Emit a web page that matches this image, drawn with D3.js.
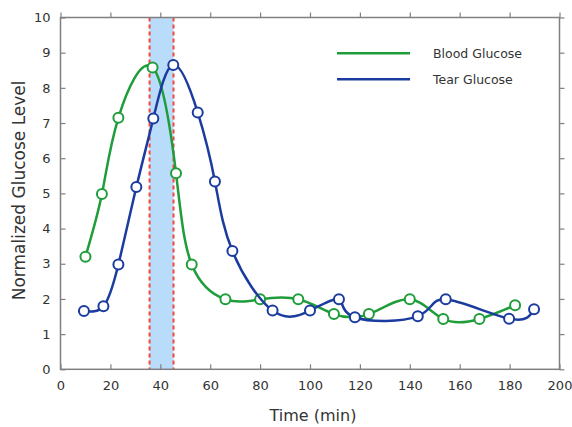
<!DOCTYPE html>
<html lang='en'>
<head>
    <meta charset='UTF-8'>
    <title>Glucose</title>
    <style>
        body { margin: 0; background: #fff; }
        text { font-family: 'DejaVu Sans', sans-serif; fill: #333; }
        .frame { fill: none; stroke: #808080; stroke-width: 1.5px; }
        .tick line { stroke: #808080; stroke-width: 1.2px; }
    </style>
</head>
<body>
    <svg id="chart" width="572" height="427"></svg>
    <script src='https://d3js.org/d3.v7.min.js'></script>
    <script>
        // blood glucose samples (time, level)
        const bloodTime = [10, 16.6, 23.2, 36.9, 46.3, 52.6, 66.1, 80, 95.3, 109.6, 123.6, 140, 153.4, 167.9, 182.2]
        const bloodLevel = [3.2, 4.98, 7.15, 8.58, 5.57, 2.98, 1.99, 1.99, 1.99, 1.57, 1.57, 1.99, 1.43, 1.43, 1.82]
        // tear glucose samples
        const tearTime = [9.4, 17.2, 23.2, 30.4, 37.2, 45.2, 55, 61.9, 68.9, 85, 100, 111.6, 118, 143.2, 154.4, 179.8, 189.8]
        const tearLevel = [1.66, 1.79, 2.98, 5.18, 7.13, 8.65, 7.3, 5.34, 3.36, 1.67, 1.67, 1.99, 1.48, 1.51, 1.99, 1.44, 1.71]
        const band = [35.7, 45.3]
        const xTicks = [0, 20, 40, 60, 80, 100, 120, 140, 160, 180, 200]
        const yTicks = [0, 1, 2, 3, 4, 5, 6, 7, 8, 9, 10]

        const series = [
            { name: 'Blood Glucose', color: '#1f9d3a', t: bloodTime, v: bloodLevel },
            { name: 'Tear Glucose', color: '#1b3c9e', t: tearTime, v: tearLevel }
        ]

        const pLeft = 60.5, pRight = 559.5, pTop = 17.5, pBottom = 369.3
        const svg = d3.select('#chart')

        const x = d3.scaleLinear().domain([0, 200]).range([pLeft, pRight])
        const y = d3.scaleLinear().domain([0, 10]).range([pBottom, pTop])

        // shaded window
        svg.append('rect')
            .attr('x', x(band[0])).attr('y', pTop)
            .attr('width', x(band[1]) - x(band[0])).attr('height', pBottom - pTop)
            .attr('fill', '#b9dcfb')
        band.forEach(b => {
            svg.append('line')
                .attr('x1', x(b)).attr('x2', x(b)).attr('y1', pTop).attr('y2', pBottom)
                .attr('stroke', '#f5453a').attr('stroke-width', 2)
                .attr('stroke-dasharray', '4,3')
        })

        // axes
        svg.append('g').attr('transform', `translate(0,${pBottom})`)
            .call(d3.axisBottom(x).tickValues(xTicks).tickSize(-5).tickPadding(11))
            .call(g => g.select('.domain').remove())
            .selectAll('text').attr('font-size', 13)
        svg.append('g').attr('transform', `translate(${pLeft},0)`)
            .call(d3.axisLeft(y).tickValues(yTicks).tickSize(-5).tickPadding(10))
            .call(g => g.select('.domain').remove())
            .selectAll('text').attr('font-size', 13)
        svg.append('g').attr('transform', `translate(0,${pTop})`)
            .call(d3.axisTop(x).tickValues(xTicks).tickSize(5).tickFormat(''))
            .call(g => g.select('.domain').remove())
        svg.append('g').attr('transform', `translate(${pRight},0)`)
            .call(d3.axisRight(y).tickValues(yTicks).tickSize(5).tickFormat(''))
            .call(g => g.select('.domain').remove())
        svg.selectAll('.tick line').attr('stroke', '#808080')

        svg.append('rect').attr('class', 'frame')
            .attr('x', pLeft).attr('y', pTop)
            .attr('width', pRight - pLeft).attr('height', pBottom - pTop)

        const line = d3.line()
            .x(d => x(d[0])).y(d => y(d[1]))
            .curve(d3.curveNatural)

        series.forEach(s => {
            const pts = s.t.map((t, i) => [t, s.v[i]])
            svg.append('path')
                .attr('d', line(pts))
                .attr('fill', 'none').attr('stroke', s.color).attr('stroke-width', 2.5)
            svg.append('g').selectAll('circle').data(pts).join('circle')
                .attr('cx', d => x(d[0])).attr('cy', d => y(d[1])).attr('r', 5)
                .attr('fill', '#fff').attr('stroke', s.color).attr('stroke-width', 2)
        })

        // legend
        const lg = svg.append('g')
        series.forEach((s, i) => {
            const ly = 53.3 + i * 26
            lg.append('line').attr('x1', 337).attr('x2', 410).attr('y1', ly).attr('y2', ly)
                .attr('stroke', s.color).attr('stroke-width', 2.5)
            lg.append('text').attr('x', 433).attr('y', ly + 4.5)
                .attr('font-size', 12.5).text(s.name)
        })

        // axis titles
        svg.append('text')
            .attr('x', 313).attr('y', 421).attr('text-anchor', 'middle')
            .attr('font-size', 16).attr('fill', '#222').text('Time (min)')
        svg.append('text')
            .attr('transform', `translate(25,${(pTop + pBottom) / 2 - 3}) rotate(-90)`)
            .attr('text-anchor', 'middle')
            .attr('font-size', 17).attr('fill', '#222').text('Normalized Glucose Level')
    </script>
</body>
</html>
